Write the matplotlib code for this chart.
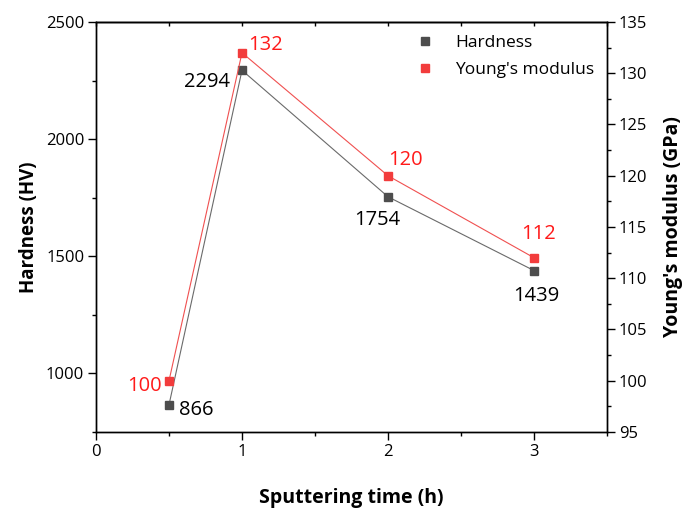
import matplotlib
matplotlib.use("Agg")
import matplotlib.pyplot as plt
from matplotlib.lines import Line2D
from matplotlib.ticker import MultipleLocator

plt.rcParams["font.family"] = ["Open Sans", "DejaVu Sans"]

# data
time_h = [0.5, 1, 2, 3]
hardness = [866, 2294, 1754, 1439]
modulus = [100, 132, 120, 112]

GREY = "#4d4d4d"
RED = "#f23c3c"

fig = plt.figure(figsize=(6.86, 5.08), dpi=100)
ax = fig.add_axes([96 / 686, 1 - 432 / 508, 511 / 686, 410 / 508])
ax2 = ax.twinx()

ax.plot(time_h, hardness, color="#6a6a6a", lw=0.8, marker="s", ms=5.5,
        mfc=GREY, mec=GREY, zorder=3)
ax2.plot(time_h, modulus, color="#f05050", lw=0.8, marker="s", ms=5.5,
         mfc=RED, mec=RED, zorder=3)

ax.set_xlim(0, 3.5)
ax.set_ylim(750, 2500)
ax2.set_ylim(95, 135)

ax.xaxis.set_major_locator(MultipleLocator(1))
ax.xaxis.set_minor_locator(MultipleLocator(0.5))
ax.yaxis.set_major_locator(MultipleLocator(500))
ax.yaxis.set_minor_locator(MultipleLocator(250))
ax2.yaxis.set_major_locator(MultipleLocator(5))
ax2.yaxis.set_minor_locator(MultipleLocator(2.5))

for a in (ax, ax2):
    for s in a.spines.values():
        s.set_linewidth(1.0)
    a.tick_params(which="major", direction="out", length=5.5, width=1.0,
                  labelsize=12, pad=3)
    a.tick_params(which="minor", direction="out", length=3, width=1.0)

top = ax.secondary_xaxis("top")
top.xaxis.set_major_locator(MultipleLocator(0.5))
top.tick_params(direction="in", length=3, width=1.0, labeltop=False)
top.spines["top"].set_linewidth(1.0)

ax.set_xlabel("Sputtering time (h)", fontsize=14, fontweight="bold", labelpad=20)
ax.set_ylabel("Hardness (HV)", fontsize=13.5, fontweight="bold", labelpad=5)
ax2.set_ylabel("Young's modulus (GPa)", fontsize=14, fontweight="bold", labelpad=11)

h_off = [(27, -5), (-35, -12), (-11, -23), (2, -25)]
m_off = [(-25, -5), (24, 8), (17, 16), (5, 24)]
for x, y, o in zip(time_h, hardness, h_off):
    ax.annotate(str(y), (x, y), xytext=o, textcoords="offset pixels",
                ha="center", va="center", fontsize=14.5, color="black")
for x, y, o in zip(time_h, modulus, m_off):
    ax2.annotate(str(y), (x, y), xytext=o, textcoords="offset pixels",
                 ha="center", va="center", fontsize=14.5, color="#ff1a1a")

handles = [Line2D([], [], ls="none", marker="s", ms=5.5, mfc=GREY, mec=GREY),
           Line2D([], [], ls="none", marker="s", ms=5.5, mfc=RED, mec=RED)]
ax2.legend(handles, ["Hardness", "Young's modulus"], loc="upper right",
           frameon=False, fontsize=12.5, handlelength=1.0, handletextpad=1.2,
           borderaxespad=0.45, borderpad=0.3, labelspacing=0.6)

fig.savefig("out.png", dpi=100, facecolor="white")
